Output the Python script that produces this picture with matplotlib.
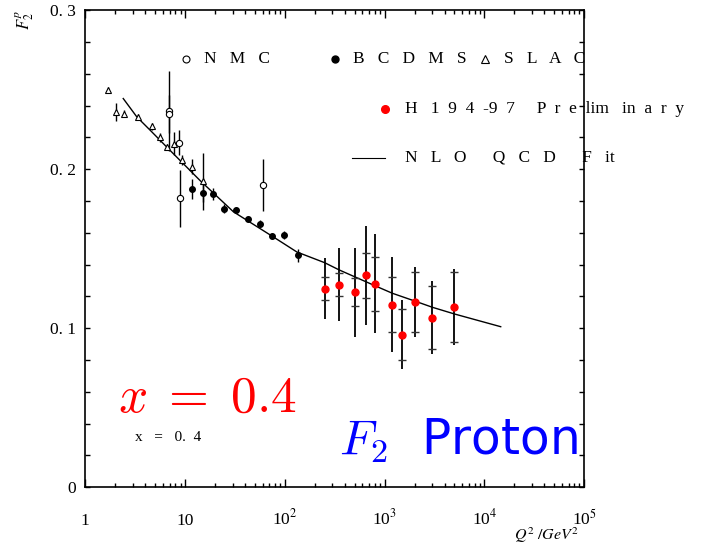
import matplotlib
matplotlib.use('Agg')
from matplotlib import pyplot as plt
import numpy as np

plt.rcParams['font.family'] = 'Liberation Serif'
plt.rcParams['mathtext.fontset'] = 'stix'

# SLAC (open triangles)
slac_q2 = [1.70, 2.02, 2.43, 3.35, 4.70, 5.65, 6.55, 7.81, 9.4, 11.7, 15.1]
slac_f2 = [0.250, 0.236, 0.235, 0.233, 0.227, 0.220, 0.214, 0.216, 0.206, 0.2015, 0.1925]
slac_err = [0.002, 0.0055, 0.002, 0.002, 0.002, 0.003, 0.002, 0.0073, 0.003, 0.0047, 0.018]

# NMC (open circles)
nmc_q2 = [6.91, 6.91, 8.77, 8.97, 61.0]
nmc_f2 = [0.2367, 0.235, 0.2168, 0.1818, 0.190]
nmc_err = [0.025, 0.012, 0.008, 0.018, 0.0165]

# BCDMS (filled circles)
bcdms_q2 = [11.75, 15.1, 18.97, 24.6, 32.5, 42.9, 56.9, 75.1, 99.1, 136.9]
bcdms_f2 = [0.1876, 0.1853, 0.1847, 0.1753, 0.1742, 0.1686, 0.1658, 0.1579, 0.1589, 0.1459]
bcdms_err = [0.006, 0.006, 0.0037, 0.003, 0.002, 0.002, 0.002, 0.002, 0.0025, 0.0042]

# H1 94-97 preliminary (red)
h1_q2 = [250, 350, 500, 650, 800, 1200, 1500, 2000, 3000, 5000]
h1_f2 = [0.125, 0.1275, 0.1228, 0.1333, 0.128, 0.1149, 0.096, 0.1164, 0.1067, 0.1134]
h1_stat = [0.007, 0.007, 0.009, 0.014, 0.017, 0.0175, 0.016, 0.019, 0.0196, 0.0223]
h1_tot = [0.019, 0.023, 0.028, 0.031, 0.031, 0.030, 0.0217, 0.022, 0.023, 0.024]

# NLO QCD fit curve
fit_q2 = [2.4, 3.28, 4.63, 6.55, 14.1, 30.5, 77, 132, 250, 351, 799, 1200, 1995, 3020, 5020, 14600]
fit_f2 = [0.2445, 0.2330, 0.2236, 0.2140, 0.1930, 0.1733, 0.1574, 0.1480, 0.1413, 0.1367,
          0.1268, 0.1220, 0.1172, 0.1132, 0.1090, 0.1010]

xticks = [1, 10, 100, 1000, 1e4, 1e5]
xticklabels = ['1', '10', '10$^{2}$', '10$^{3}$', '10$^{4}$', '10$^{5}$']
yticks = [0, 0.1, 0.2, 0.3]
yticklabels = ['0', '0. 1', '0. 2', '0. 3']

fig = plt.figure(figsize=(7.14, 5.48), dpi=100)
ax = fig.add_axes([0.1195, 0.1108, 0.6985, 0.8704])

ax.plot(fit_q2, fit_f2, 'k-', lw=1.0, zorder=2)

ax.errorbar(slac_q2, slac_f2, yerr=slac_err, fmt='^', mfc='white', mec='k', ecolor='k',
            ms=4.5, mew=0.8, elinewidth=1.0, capsize=0, zorder=3)
ax.errorbar(nmc_q2, nmc_f2, yerr=nmc_err, fmt='o', mfc='white', mec='k', ecolor='k',
            ms=4.5, mew=0.8, elinewidth=1.0, capsize=0, zorder=3)
ax.errorbar(bcdms_q2, bcdms_f2, yerr=bcdms_err, fmt='o', color='k', ecolor='k',
            ms=4, elinewidth=1.0, capsize=0, zorder=3)
ax.errorbar(h1_q2, h1_f2, yerr=h1_tot, fmt='none', ecolor='k', elinewidth=1.3, capsize=0, zorder=3)
ax.errorbar(h1_q2, h1_f2, yerr=h1_stat, fmt='none', ecolor='#333333', elinewidth=0,
            capsize=3, capthick=1.0, zorder=3)
ax.plot(h1_q2, h1_f2, 'o', color='red', ms=5, zorder=4)

ax.set_xscale('log')
ax.set_xlim(1, 1e5)
ax.set_ylim(0, 0.3)
ax.set_xticks(xticks, xticklabels)
ax.set_yticks(yticks, yticklabels)
ax.set_yticks(np.arange(0, 0.3, 0.02), minor=True)
ax.xaxis.set_minor_locator(matplotlib.ticker.LogLocator(base=10, subs=np.arange(2, 10)))
ax.xaxis.set_minor_formatter(matplotlib.ticker.NullFormatter())
ax.tick_params(which='both', direction='in', top=True, right=True, width=1.0, labelsize=12.5)
ax.tick_params(axis='x', which='major', length=6, pad=27)
ax.tick_params(axis='x', which='minor', length=3)
ax.tick_params(axis='y', which='both', length=3.6, pad=7)
for lbl in ax.get_xticklabels():
    lbl.set_va('baseline')
for s in ax.spines.values():
    s.set_linewidth(1.2)

ax.set_xlabel('$Q^2\\ /GeV^2$', loc='right', fontsize=11.5)
ax.xaxis.set_label_coords(0.99, -0.080)
ax.set_ylabel('$F_2^p$', loc='top', fontsize=12, labelpad=10)

# legend drawn by hand, like the original
ax.plot([0.201], [0.898], 'o', mfc='white', mec='k', ms=5, mew=0.8, transform=ax.transAxes, clip_on=False)
ax.text(0.238, 0.898, 'N   M   C', fontsize=12.5, va='center', transform=ax.transAxes)
ax.plot([0.501], [0.898], 'o', color='k', ms=5, transform=ax.transAxes, clip_on=False)
ax.text(0.537, 0.898, 'B   C   D   M   S', fontsize=12.5, va='center', transform=ax.transAxes)
ax.plot([0.801], [0.898], '^', mfc='white', mec='k', ms=6, mew=0.8, transform=ax.transAxes, clip_on=False)
ax.text(0.840, 0.898, 'S   L   A   C', fontsize=12.5, va='center', transform=ax.transAxes)
ax.plot([0.601], [0.794], 'o', color='red', ms=5.5, transform=ax.transAxes, clip_on=False)
ax.text(0.641, 0.794, 'H   1  9  4  -9  7     P  r  e  lim   in  a  r  y', fontsize=12.5,
        va='center', transform=ax.transAxes)
ax.plot([0.535, 0.601], [0.691, 0.691], 'k-', lw=0.8, transform=ax.transAxes, clip_on=False)
ax.text(0.641, 0.691, 'N   L   O      Q   C   D      F   it', fontsize=12.5, va='center',
        transform=ax.transAxes)

ax.text(0.066, 0.158, '$x\\;=\\;0.4$', color='red', fontsize=37, math_fontfamily='cm',
        va='baseline', transform=ax.transAxes)
ax.text(0.0997, 0.097, 'x   =   0.  4', fontsize=11, va='baseline', transform=ax.transAxes)
ax.text(0.988, 0.068, '$F_2$  Proton', color='blue', fontsize=35, family='DejaVu Sans',
        math_fontfamily='cm', ha='right', va='baseline', transform=ax.transAxes)

plt.savefig('out.png', dpi=100)
